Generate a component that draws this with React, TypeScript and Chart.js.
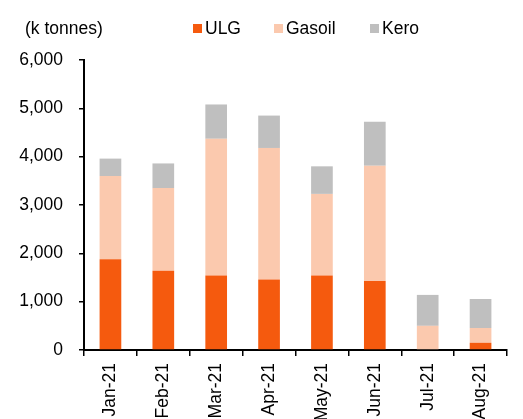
import React, { useEffect, useRef } from "react";
import { Chart, registerables } from "chart.js";

Chart.register(...registerables);

const categories = ["Jan-21", "Feb-21", "Mar-21", "Apr-21", "May-21", "Jun-21", "Jul-21", "Aug-21"];
const ulg = [1880, 1640, 1540, 1460, 1540, 1430, 0, 150];
const gasoil = [1720, 1710, 2830, 2720, 1690, 2380, 500, 305];
const kero = [360, 510, 710, 670, 570, 910, 640, 600];
const seriesNames = ["ULG", "Gasoil", "Kero"];
const seriesColors = ["#F55A0E", "#FBC9AE", "#BFBFBF"];
const unitLabel = "(k tonnes)";
const yTicks = [0, 1000, 2000, 3000, 4000, 5000, 6000];

const FONT = '"Liberation Sans", Arial, sans-serif';

const legendPlugin = {
  id: "customLegend",
  afterDraw(chart: any) {
    const ctx = chart.ctx;
    ctx.save();
    ctx.font = `17.5px ${FONT}`;
    ctx.fillStyle = "#000";
    ctx.textBaseline = "middle";
    ctx.textAlign = "left";
    ctx.fillText(unitLabel, 25, 29);
    const boxX = [193, 274, 370];
    chart.data.datasets.forEach((ds: any, i: number) => {
      ctx.fillStyle = ds.backgroundColor;
      ctx.fillRect(boxX[i], 24, 9, 9);
      ctx.fillStyle = "#000";
      ctx.fillText(ds.label, boxX[i] + 12, 29);
    });
    ctx.restore();
  },
};

export default function App() {
  const ref = useRef<HTMLCanvasElement>(null);
  useEffect(() => {
    if (!ref.current) return;
    const chart = new Chart(ref.current, {
      type: "bar",
      data: {
        labels: categories,
        datasets: [ulg, gasoil, kero].map((d, i) => ({
          label: seriesNames[i],
          data: d,
          backgroundColor: seriesColors[i],
          borderWidth: 0,
          barPercentage: 0.41,
          categoryPercentage: 1,
        })),
      },
      options: {
        animation: false,
        responsive: true,
        maintainAspectRatio: false,
        layout: { padding: { top: 60, right: 16, bottom: 0, left: 0 } },
        plugins: { legend: { display: false }, tooltip: { enabled: false } },
        scales: {
          x: {
            stacked: true,
            offset: true,
            afterFit(scale: any) {
              scale.height = 69;
            },
            grid: {
              display: true,
              offset: true,
              drawOnChartArea: false,
              drawTicks: true,
              tickLength: 6,
              color: "#000",
              lineWidth: 1.5,
            },
            border: { display: true, color: "#000", width: 2 },
            ticks: {
              color: "#000",
              font: { family: FONT, size: 17.5 },
              minRotation: 90,
              maxRotation: 90,
              padding: 7,
              autoSkip: false,
            },
          },
          y: {
            stacked: true,
            min: 0,
            max: 6000,
            afterFit(scale: any) {
              scale.width = 84;
            },
            afterBuildTicks(scale: any) {
              scale.ticks = yTicks.map((v) => ({ value: v }));
            },
            grid: {
              display: true,
              drawOnChartArea: false,
              drawTicks: true,
              tickLength: 5,
              color: "#000",
              lineWidth: 1.5,
            },
            border: { display: true, color: "#000", width: 2 },
            ticks: {
              color: "#000",
              font: { family: FONT, size: 17.5 },
              padding: 16,
              callback: (v: any) => Number(v).toLocaleString("en-US"),
            },
          },
        },
      },
      plugins: [legendPlugin],
    });
    return () => chart.destroy();
  }, []);
  return (
    <div style={{ position: "fixed", left: 0, top: 0, width: 523, height: 419, background: "#fff" }}>
      <canvas ref={ref} />
    </div>
  );
}
